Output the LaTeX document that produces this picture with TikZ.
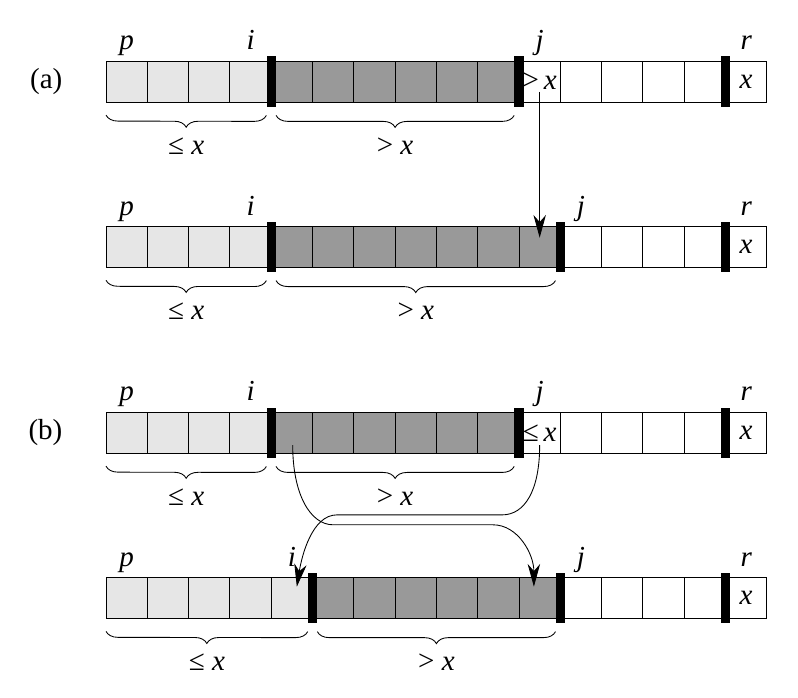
\documentclass[tikz,border=0pt]{standalone}
\usepackage{fontspec}
\setmainfont{Liberation Serif}
\usepackage{tikz}
\usetikzlibrary{positioning,arrows.meta,calc,decorations.pathreplacing}
\definecolor{lowpart}{HTML}{E6E6E6}
\definecolor{highpart}{HTML}{999999}
\tikzset{
    cell/.style={rectangle, draw, line width=0.6pt, minimum size=1cm, inner sep=0pt, outer sep=0pt},
    kind0/.style={cell, fill=white},
    kind1/.style={cell, fill=highpart},
    kind2/.style={cell, fill=lowpart},
    bar/.style={rectangle, fill=black, minimum width=0.22cm, minimum height=1.22cm, inner sep=0pt},
    idx/.style={inner sep=0pt, text height=1.6ex, text depth=0.5ex, font=\fontsize{20}{24}\selectfont\itshape},
    val/.style={inner sep=0pt, font=\fontsize{20}{24}\selectfont},
    brace/.style={decorate, decoration={brace, mirror, amplitude=0.29cm}, line width=0.6pt},
    arrow/.style={-{Stealth[length=0.55cm, width=0.3cm, inset=0.17cm]}, line width=0.6pt}
}

\begin{document}
\begin{tikzpicture}
\useasboundingbox (-2.567,-14.40) rectangle (16.755,2.477);

\foreach \row/\y/\nlo/\nhi/\nj in {1/0.5/4/10/11, 2/-3.5/4/11/12, 3/-8/4/10/11, 4/-12/5/11/12} {
    \foreach \k in {1,...,16} {
        \pgfmathtruncatemacro\kind{(\k<\nlo+1)+(\k<\nhi+1)}
        \node[kind\kind] (a\row-\k) at (\k-0.5,\y) {};
    }
    \node[bar] (bi\row) at (a\row-\nlo.east) {};
    \node[bar] (bj\row) at (a\row-\nhi.east) {};
    \node[bar] (br\row) at (a\row-15.east) {};
    \node[val] (x\row) at (a\row-16) {\textit{x}};

    \node[idx, above=0.18cm of a\row-1] (p\row) {p};
    \node[idx, above=0.18cm of a\row-\nlo] (i\row) {i};
    \node[idx, above=0.18cm of a\row-\nj] (j\row) {j};
    \node[idx, above=0.18cm of a\row-16] (r\row) {r};

    \draw[brace] ([yshift=-0.31cm]a\row-1.south west) -- ([yshift=-0.2cm]bi\row.south west)
        node[val, midway, yshift=-0.74cm] (le\row) {≤ \textit{x}};
    \draw[brace] ([yshift=-0.2cm]bi\row.south east) -- ([yshift=-0.2cm]bj\row.south west)
        node[val, midway, yshift=-0.74cm] (gt\row) {> \textit{x}};
}

\node[val] (big) at (a1-11) {>\,\textit{x}};
\node[val] (small) at (a3-11) {≤\,\textit{x}};
\node[val, left=1.05cm of a1-1] (parta) {(a)};
\node[val, left=1.05cm of a3-1] (partb) {(b)};

\draw[arrow] ([yshift=-0.25cm]a1-11.center) -- ([yshift=0.22cm]a2-11.center);
\draw[arrow] ([yshift=-0.3cm]a3-11.center) .. controls +(0,-1.1) and +(0.55,0) .. ++(-0.91,-1.69)
    -- ++(-4,0) .. controls +(-0.6,0) and +(0.12,0.75) .. ([xshift=0.12cm,yshift=0.27cm]a4-5.center);
\draw[arrow] ([xshift=0.02cm,yshift=-0.3cm]a3-5.center) .. controls +(0,-1.2) and +(-0.55,0) .. ++(0.98,-1.93)
    -- ++(3.87,0) .. controls +(0.6,0) and +(0,0.8) .. ([xshift=-0.14cm,yshift=0.27cm]a4-11.center);

\end{tikzpicture}
\end{document}
